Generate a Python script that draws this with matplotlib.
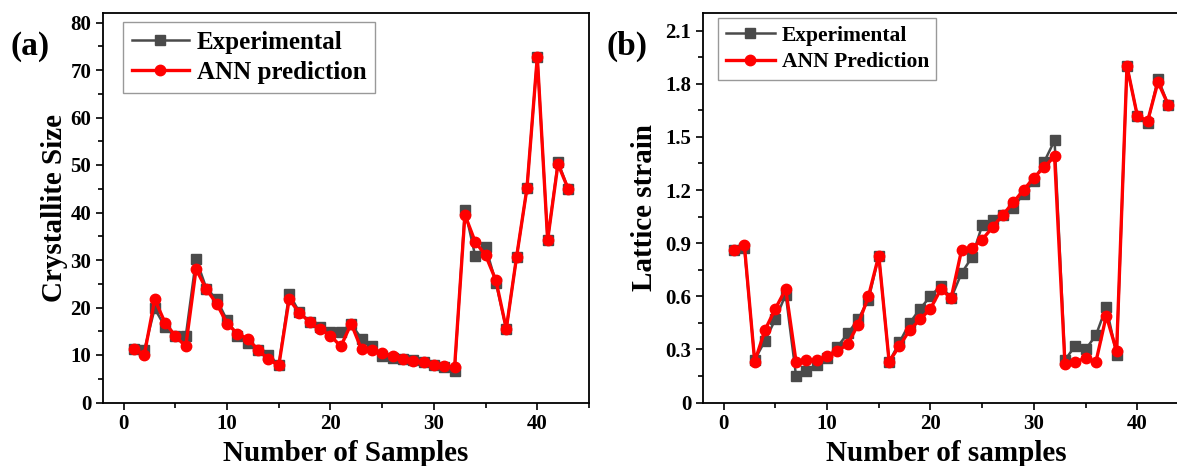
import matplotlib
matplotlib.use("Agg")
import matplotlib.pyplot as plt
from matplotlib.ticker import MultipleLocator, FuncFormatter

# Sample index
samples = list(range(1, 44))

# (a) Crystallite size
cs_exp = [11.2, 11.1, 19.8, 15.9, 14.0, 13.9, 30.2, 24.0, 21.7, 17.3,
          14.1, 12.6, 11.1, 10.1, 7.8, 22.9, 19.0, 17.0, 15.9, 14.8,
          14.8, 16.6, 13.4, 11.9, 9.7, 9.4, 9.2, 9.0, 8.5, 8.0,
          7.4, 6.6, 40.6, 30.8, 32.8, 25.2, 15.5, 30.7, 45.1, 72.8,
          34.2, 50.7, 44.9]
cs_ann = [11.2, 10.1, 21.7, 16.8, 14.0, 11.8, 28.1, 23.8, 20.8, 16.6,
          14.5, 13.4, 11.1, 9.1, 7.8, 21.7, 18.9, 16.9, 15.4, 14.1,
          11.8, 16.6, 11.2, 11.0, 10.4, 9.7, 9.2, 8.7, 8.5, 8.0,
          7.7, 7.4, 39.5, 33.8, 31.0, 25.7, 15.5, 30.7, 45.1, 72.8,
          34.2, 50.2, 44.9]

# (b) Lattice strain
ls_exp = [0.86, 0.87, 0.24, 0.35, 0.47, 0.61, 0.15, 0.18, 0.21, 0.25,
          0.315, 0.39, 0.47, 0.58, 0.83, 0.23, 0.34, 0.45, 0.53, 0.60,
          0.66, 0.59, 0.73, 0.82, 1.00, 1.03, 1.06, 1.10, 1.18, 1.25,
          1.36, 1.48, 0.24, 0.32, 0.30, 0.38, 0.54, 0.27, 1.90, 1.62,
          1.58, 1.83, 1.68]
ls_ann = [0.86, 0.89, 0.23, 0.41, 0.53, 0.64, 0.23, 0.24, 0.24, 0.26,
          0.29, 0.33, 0.44, 0.60, 0.83, 0.23, 0.32, 0.41, 0.47, 0.53,
          0.64, 0.59, 0.86, 0.87, 0.92, 0.99, 1.06, 1.13, 1.20, 1.27,
          1.33, 1.39, 0.22, 0.23, 0.25, 0.23, 0.49, 0.29, 1.90, 1.62,
          1.59, 1.81, 1.68]

plt.rcParams['font.family'] = ['Liberation Serif', 'DejaVu Serif']
plt.rcParams['font.weight'] = 'bold'

W, H = 1177, 466
fig = plt.figure(figsize=(W / 100, H / 100), dpi=100)

def px_axes(x0, x1, y_top, y_bot):
    return fig.add_axes([x0 / W, 1 - y_bot / H, (x1 - x0) / W, (y_bot - y_top) / H])

ax1 = px_axes(103, 589, 13, 402.5)
ax2 = px_axes(703, 1189, 13, 402.5)

GRAY = '#4a4a4a'
RED = '#ff0000'

def draw(ax, y_exp, y_ann, labels, legend_size, legend_anchor, hlen):
    ax.plot(samples, y_exp, color=GRAY, lw=1.8, marker='s', ms=6.5,
            mfc=GRAY, mec=GRAY, label=labels[0], zorder=2)
    ax.plot(samples, y_ann, color=RED, lw=2.4, marker='o', ms=7.5,
            mfc=RED, mec=RED, label=labels[1], zorder=3)
    ax.set_xlim(-2, 45)
    ax.xaxis.set_major_locator(MultipleLocator(10))
    ax.xaxis.set_minor_locator(MultipleLocator(5))
    ax.tick_params(which='both', direction='out', width=1.2, labelsize=15,
                   top=False, right=False)
    ax.tick_params(which='major', length=5)
    ax.tick_params(which='minor', length=3.5)
    for s in ax.spines.values():
        s.set_linewidth(1.3)
    leg = ax.legend(loc='upper left', bbox_to_anchor=legend_anchor,
                    prop={'size': legend_size, 'weight': 'bold'},
                    handlelength=hlen, handletextpad=0.3, labelspacing=0.3,
                    borderpad=0.35, borderaxespad=0, fancybox=False,
                    framealpha=1)
    leg.get_frame().set_edgecolor('#999999')
    leg.get_frame().set_linewidth(1.0)

draw(ax1, cs_exp, cs_ann, ['Experimental', 'ANN prediction'], 18,
     (0.041, 0.977), 2.3)
ax1.set_ylim(0, 82)
ax1.yaxis.set_major_locator(MultipleLocator(10))
ax1.yaxis.set_minor_locator(MultipleLocator(5))
ax1.set_xlabel('Number of Samples', fontsize=21, fontweight='bold', labelpad=4)
ax1.set_ylabel('Crystallite Size', fontsize=21, fontweight='bold', labelpad=2)

draw(ax2, ls_exp, ls_ann, ['Experimental', 'ANN Prediction'], 15.5,
     (0.031, 0.987), 2.3)
ax2.set_ylim(0, 2.2)
ax2.yaxis.set_major_locator(MultipleLocator(0.3))
ax2.yaxis.set_minor_locator(MultipleLocator(0.15))
ax2.yaxis.set_major_formatter(FuncFormatter(lambda v, p: '0' if abs(v) < 1e-9 else f'{v:.1f}'))
ax2.set_xlabel('Number of samples', fontsize=21, fontweight='bold', labelpad=4)
ax2.set_ylabel('Lattice strain', fontsize=21, fontweight='bold', labelpad=5)

for ax in (ax1, ax2):
    for lab in ax.get_xticklabels() + ax.get_yticklabels():
        lab.set_fontweight('bold')

fig.text(10 / W, 1 - 55 / H, '(a)', fontsize=24, fontweight='bold')
fig.text(606 / W, 1 - 55 / H, '(b)', fontsize=24, fontweight='bold')

fig.savefig('out.png', dpi=100)
